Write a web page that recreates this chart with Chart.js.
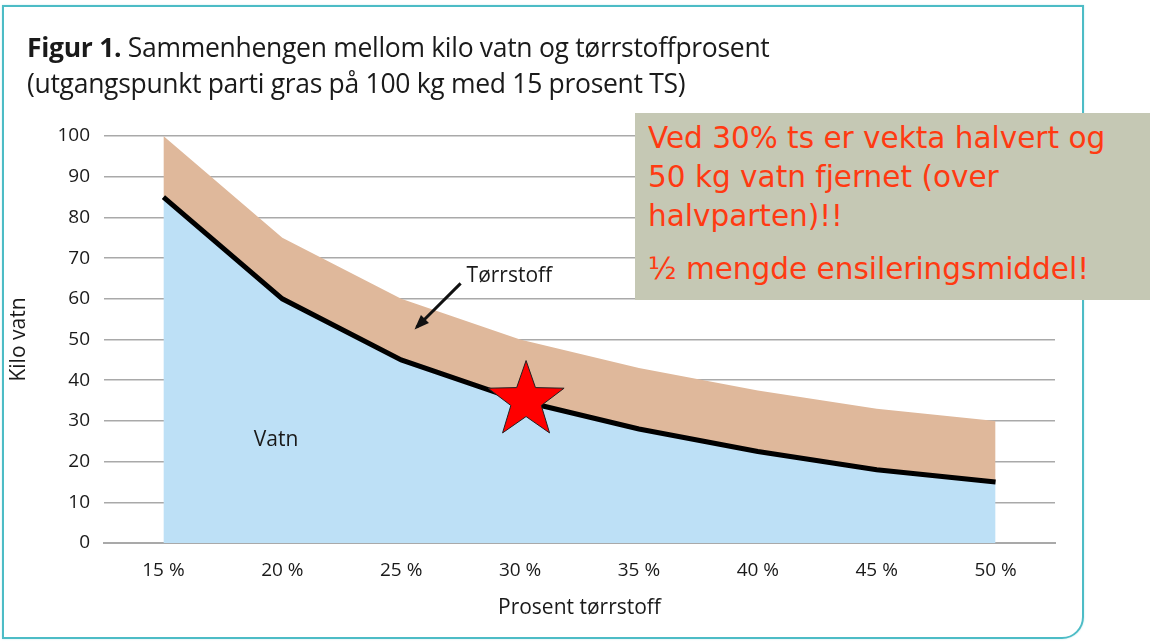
<!DOCTYPE html>
<html>
<head>
<meta charset="utf-8">
<script src="https://cdn.jsdelivr.net/npm/chart.js@4"></script>
<style>
  body { margin: 0; background: #fff; width: 1152px; height: 643px; position: relative; overflow: hidden; }
  #frame {
    position: absolute; left: 2px; top: 5px; width: 1078px; height: 630px;
    border: 2px solid #4dbcc6; border-bottom-right-radius: 22px;
    box-shadow: 0 0 2px #bfe6ea;
  }
  #title {
    position: absolute; left: 27px; top: 29px;
    font-family: "Open Sans", sans-serif;
    font-size: 26.5px; line-height: 36px; color: #1a1a1a; letter-spacing: -0.3px;
  }
  #title b { font-weight: bold; }
  #note {
    position: absolute; left: 635px; top: 113px; width: 515px; height: 187px;
    background: #c5c8b4; color: #ff3a12;
    font-family: "Comic Sans MS", "DejaVu Sans", sans-serif;
    font-size: 29.5px; line-height: 39px; box-sizing: border-box; padding: 6px 0 0 13px;
  }
  canvas { position: absolute; left: 0; top: 0; }
</style>
</head>
<body>
<div id="frame"></div>
<canvas id="chart" width="1152" height="643"></canvas>
<div id="title"><b>Figur 1.</b> Sammenhengen mellom kilo vatn og tørrstoffprosent<br>(utgangspunkt parti gras på 100 kg med 15 prosent TS)</div>
<div id="note">Ved 30% ts er vekta halvert og<br>50 kg vatn fjernet (over<br>halvparten)!!<div style="height:14px"></div>½ mengde ensileringsmiddel!</div>
<script>
const categories = ['15 %', '20 %', '25 %', '30 %', '35 %', '40 %', '45 %', '50 %'];
const vatn = [85, 60, 45, 35, 28, 22.5, 18, 15];
const total = [100, 75, 60, 50, 43, 37.5, 33, 30];
const yTicks = [0, 10, 20, 30, 40, 50, 60, 70, 80, 90, 100];

const axisFont = { family: '"Open Sans", sans-serif', size: 19 };
const titleFont = { family: '"Open Sans", sans-serif', size: 21 };

// star at 30 %, arrow + labels
const extras = {
  id: 'extras',
  afterDatasetsDraw(chart) {
    const ctx = chart.ctx;
    const x = chart.scales.x, y = chart.scales.y;
    ctx.save();
    ctx.font = '21px "Open Sans", sans-serif';
    ctx.fillStyle = '#1a1a1a';
    ctx.textBaseline = 'middle';
    ctx.fillText('Tørrstoff', x.getPixelForValue(2.55), y.getPixelForValue(65.5));
    ctx.fillText('Vatn', x.getPixelForValue(0.76), y.getPixelForValue(25.3));

    // arrow
    const x1 = x.getPixelForValue(2.5), y1 = y.getPixelForValue(63.8);
    const x2 = x.getPixelForValue(2.13), y2 = y.getPixelForValue(53);
    ctx.strokeStyle = '#111';
    ctx.lineWidth = 3;
    ctx.beginPath(); ctx.moveTo(x1, y1); ctx.lineTo(x2, y2); ctx.stroke();
    const a = Math.atan2(y2 - y1, x2 - x1);
    ctx.fillStyle = '#111';
    ctx.beginPath();
    ctx.moveTo(x2 + 3 * Math.cos(a), y2 + 3 * Math.sin(a));
    ctx.lineTo(x2 - 13 * Math.cos(a - 0.45), y2 - 13 * Math.sin(a - 0.45));
    ctx.lineTo(x2 - 13 * Math.cos(a + 0.45), y2 - 13 * Math.sin(a + 0.45));
    ctx.closePath(); ctx.fill();

    // star
    const cx = x.getPixelForValue(3) + 6, cy = y.getPixelForValue(vatn[3]);
    const R = 40, r = 16;
    ctx.beginPath();
    for (let i = 0; i < 10; i++) {
      const ang = -Math.PI / 2 + i * Math.PI / 5;
      const rad = i % 2 === 0 ? R : r;
      const px = cx + rad * Math.cos(ang), py = cy + rad * Math.sin(ang);
      if (i === 0) ctx.moveTo(px, py); else ctx.lineTo(px, py);
    }
    ctx.closePath();
    ctx.fillStyle = '#ff0000';
    ctx.fill();
    ctx.lineWidth = 1;
    ctx.strokeStyle = '#222';
    ctx.stroke();
    ctx.restore();
  }
};

new Chart(document.getElementById('chart'), {
  type: 'line',
  data: {
    labels: categories,
    datasets: [{
      label: 'Vatn',
      data: vatn,
      borderColor: '#000',
      borderWidth: 5,
      backgroundColor: '#bde0f6',
      fill: 'origin',
      pointRadius: 0,
      tension: 0
    }, {
      label: 'Tørrstoff',
      data: total,
      borderWidth: 0,
      borderColor: 'rgba(0,0,0,0)',
      backgroundColor: '#dfb89b',
      fill: '-1',
      pointRadius: 0,
      tension: 0
    }]
  },
  options: {
    responsive: false,
    animation: false,
    layout: { padding: { left: 0, top: 136, right: 97, bottom: 0 } },
    plugins: { legend: { display: false }, tooltip: { enabled: false } },
    scales: {
      x: {
        offset: true,
        grid: { display: false, drawTicks: false },
        border: { display: true, color: '#a9a9a9', width: 2 },
        ticks: { color: '#1a1a1a', font: axisFont, padding: 16, maxRotation: 0 },
        title: { display: true, text: 'Prosent tørrstoff', color: '#1a1a1a', font: titleFont, padding: { top: 0, bottom: 22 } },
        afterFit(s) { s.height = 100; }
      },
      y: {
        min: 0, max: 100,
        afterBuildTicks(s) { s.ticks = yTicks.map(v => ({ value: v })); },
        grid: { color: '#a9a9a9', lineWidth: 1.5, drawTicks: false },
        border: { display: false },
        ticks: { color: '#1a1a1a', font: axisFont, padding: 14 },
        title: { display: true, text: 'Kilo vatn', color: '#1a1a1a', font: titleFont, padding: { top: 6, bottom: 0 } },
        afterFit(s) { s.width = 104; }
      }
    }
  },
  plugins: [extras]
});
</script>
</body>
</html>
